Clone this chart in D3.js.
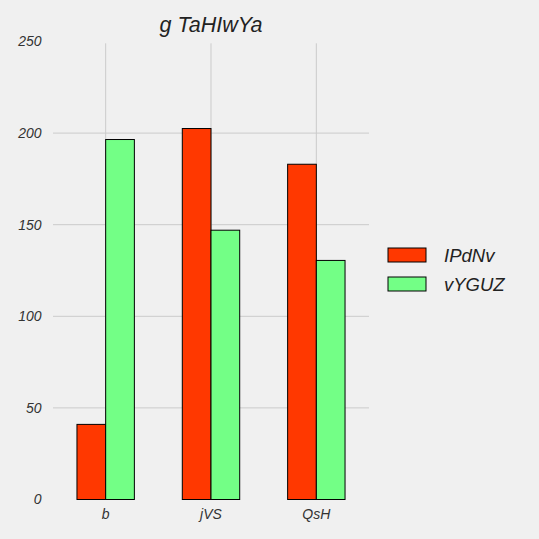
<!DOCTYPE html>
<html><head><meta charset="utf-8">
<script src="https://cdn.jsdelivr.net/npm/d3@7"></script>
<style>
html,body{margin:0;padding:0;background:#f0f0f0;}
svg{display:block;font-family:"Liberation Sans",Arial,sans-serif;}
</style></head>
<body>
<script>
const categories = ["b", "jVS", "QsH"];
const seriesNames = ["IPdNv", "vYGUZ"];
const seriesIPdNv = [41, 202.5, 183];
const seriesVYGUZ = [196.5, 147, 130.5];
const yTicks = [0, 50, 100, 150, 200, 250];
const colors = ["#ff3800", "#73ff86"];
const title = "g TaHIwYa";

const W = 539, H = 539;
const m = {left: 53, right: 170, top: 41.5, bottom: 39.5};
const svg = d3.select("body").append("svg").attr("width", W).attr("height", H);
svg.append("rect").attr("width", W).attr("height", H).attr("fill", "#f0f0f0");

const x = d3.scaleBand().domain(categories).range([m.left, W - m.right]);
const y = d3.scaleLinear().domain([0, 250]).range([H - m.bottom, m.top]);
const values = [seriesIPdNv, seriesVYGUZ];
const barW = x.bandwidth() * 0.2725;

// grid
svg.append("g").selectAll("line").data(yTicks.filter(t => t > 0 && t < 250)).join("line")
  .attr("x1", m.left).attr("x2", W - m.right)
  .attr("y1", d => y(d)).attr("y2", d => y(d))
  .attr("stroke", "#cbcbcb").attr("stroke-width", 1);
svg.append("g").selectAll("line").data(categories).join("line")
  .attr("x1", d => x(d) + x.bandwidth() / 2).attr("x2", d => x(d) + x.bandwidth() / 2)
  .attr("y1", y(0)).attr("y2", y(249))
  .attr("stroke", "#cbcbcb").attr("stroke-width", 1);

// bars
values.forEach((vals, si) => {
  svg.append("g").selectAll("rect").data(categories).join("rect")
    .attr("x", (d) => x(d) + x.bandwidth() / 2 + (si - 1) * barW)
    .attr("y", (d, i) => y(vals[i]))
    .attr("width", barW)
    .attr("height", (d, i) => y(0) - y(vals[i]))
    .attr("fill", colors[si]).attr("stroke", "#000").attr("stroke-width", 1);
});

// y tick labels
svg.append("g").selectAll("text").data(yTicks).join("text")
  .attr("x", 41.5).attr("y", d => y(d)).attr("dy", "0.35em")
  .attr("text-anchor", "end").attr("font-style", "italic").attr("font-size", 14)
  .attr("fill", "#333").text(d => d);

// x tick labels
svg.append("g").selectAll("text").data(categories).join("text")
  .attr("x", d => x(d) + x.bandwidth() / 2).attr("y", 519)
  .attr("text-anchor", "middle").attr("font-style", "italic").attr("font-size", 14)
  .attr("fill", "#333").text(d => d);

// title
svg.append("text").attr("x", (m.left + W - m.right) / 2).attr("y", 32)
  .attr("text-anchor", "middle").attr("font-style", "italic").attr("font-size", 21.5)
  .attr("fill", "#222").text(title);

// legend
const lg = svg.append("g");
seriesNames.forEach((s, i) => {
  lg.append("rect").attr("x", 388).attr("y", 248 + i * 29).attr("width", 38).attr("height", 14)
    .attr("fill", colors[i]).attr("stroke", "#000").attr("stroke-width", 1);
  lg.append("text").attr("x", 444).attr("y", 262 + i * 29)
    .attr("font-style", "italic").attr("font-size", 18.5).attr("fill", "#222").text(s);
});
</script>
</body></html>
